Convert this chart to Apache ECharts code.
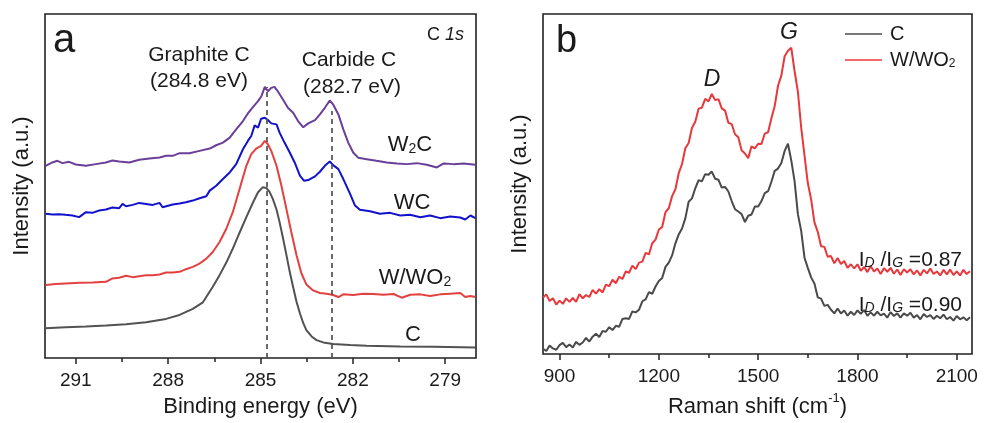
<!DOCTYPE html>
<html>
<head>
<meta charset="utf-8">
<script src="https://cdn.jsdelivr.net/npm/echarts@6/dist/echarts.min.js"></script>
<style>
html,body{margin:0;padding:0;background:#fff;}
#chart{width:984px;height:423px;}
</style>
</head>
<body>
<div id="chart"></div>
<script>
// ---------- Panel a: XPS C 1s (binding energy eV, intensity a.u.) ----------
var xpsTicks = [279, 282, 285, 288, 291];
var xpsMinorTicks = [280.5, 283.5, 286.5, 289.5];
var xpsC = [[291.98,90],[291.33,93],[290.67,95],[290.02,98],[289.37,102],[288.72,108],[288.07,118],[287.63,130],[287.20,148],[286.87,168],[286.55,215],[286.33,250],[286.11,288],[285.90,330],[285.68,378],[285.46,425],[285.24,470],[285.08,500],[284.93,515],[284.81,513],[284.71,502],[284.60,480],[284.48,448],[284.38,410],[284.27,362],[284.16,312],[284.05,260],[283.94,214],[283.83,170],[283.72,135],[283.61,105],[283.51,84],[283.34,65],[283.18,54],[282.96,47],[282.64,42],[282.09,39],[281.55,37],[280.46,35],[279.38,34],[278.02,32]];
var xpsWWO2 = [[291.98,220],[291.65,223],[291.33,225],[290.89,227],[290.46,228],[290.02,230],[289.81,240],[289.59,242],[289.37,248],[289.15,244],[288.94,247],[288.72,250],[288.50,250],[288.28,252],[288.07,258],[287.85,258],[287.63,260],[287.42,268],[287.20,275],[286.98,285],[286.76,300],[286.55,320],[286.33,350],[286.11,390],[285.90,440],[285.68,510],[285.46,580],[285.30,615],[285.14,632],[284.98,640],[284.86,655],[284.76,645],[284.65,625],[284.48,580],[284.32,520],[284.16,450],[284.00,380],[283.83,310],[283.67,255],[283.51,222],[283.29,204],[283.07,196],[282.85,194],[282.64,190],[282.47,184],[282.31,192],[281.99,190],[281.66,194],[281.33,193],[281.01,191],[280.68,193],[280.41,182],[280.14,191],[279.81,192],[279.49,187],[279.16,192],[278.84,194],[278.51,196],[278.35,184],[278.18,187],[278.02,184]];
var xpsWC = [[291.98,435],[291.76,433],[291.54,434],[291.33,432],[291.11,430],[290.89,425],[290.67,440],[290.46,438],[290.24,445],[290.02,448],[289.81,454],[289.59,452],[289.48,465],[289.37,458],[289.15,462],[288.94,468],[288.72,465],[288.50,462],[288.28,468],[288.18,455],[287.85,463],[287.63,466],[287.42,470],[287.20,475],[286.98,482],[286.76,488],[286.65,505],[286.44,520],[286.22,540],[286.00,560],[285.79,585],[285.57,630],[285.41,655],[285.30,670],[285.19,702],[285.08,695],[284.98,722],[284.86,725],[284.76,718],[284.65,708],[284.48,705],[284.38,680],[284.22,650],[284.05,620],[283.89,590],[283.72,550],[283.59,535],[283.45,537],[283.23,548],[283.07,562],[282.91,580],[282.75,593],[282.64,582],[282.47,570],[282.31,540],[282.09,495],[281.93,460],[281.77,447],[281.44,443],[281.12,435],[280.79,438],[280.46,430],[280.14,432],[279.81,425],[279.49,430],[279.16,422],[278.84,427],[278.51,424],[278.35,418],[278.18,430],[278.02,422]];
var xpsW2C = [[291.98,580],[291.76,590],[291.60,595],[291.43,588],[291.22,592],[291.00,584],[290.67,580],[290.35,585],[290.02,590],[289.81,596],[289.59,593],[289.26,590],[288.94,598],[288.61,602],[288.28,605],[288.07,610],[287.85,610],[287.63,618],[287.31,618],[286.98,625],[286.65,632],[286.44,642],[286.22,650],[286.00,665],[285.79,690],[285.57,715],[285.41,738],[285.24,758],[285.08,775],[284.97,790],[284.86,818],[284.76,805],[284.65,815],[284.55,818],[284.44,805],[284.27,780],[284.11,755],[283.94,740],[283.78,715],[283.61,696],[283.45,708],[283.23,718],[283.07,735],[282.91,755],[282.75,777],[282.64,765],[282.47,735],[282.31,690],[282.15,650],[281.99,620],[281.82,604],[281.55,600],[281.23,595],[280.90,590],[280.57,587],[280.25,585],[279.92,588],[279.60,583],[279.27,575],[279.05,587],[278.73,585],[278.40,587],[278.02,583]];
var xpsDashed = [[284.8, 818], [282.7, 745]];

// ---------- Panel b: Raman (shift cm-1, intensity a.u.) ----------
var ramanTicks = [900, 1200, 1500, 1800, 2100];
var ramanMinorTicks = [1050, 1350, 1650, 1950];
var ramanShift = [850,860,870,880,890,900,910,920,930,940,950,960,970,980,990,1000,1010,1020,1030,1040,1050,1060,1070,1080,1090,1100,1110,1120,1130,1140,1150,1160,1170,1180,1190,1200,1210,1220,1230,1240,1250,1260,1270,1280,1290,1300,1310,1320,1330,1340,1350,1360,1370,1380,1390,1400,1410,1420,1430,1440,1450,1460,1470,1480,1490,1500,1510,1520,1530,1540,1550,1560,1570,1580,1590,1600,1610,1620,1630,1640,1650,1660,1670,1680,1690,1700,1710,1720,1730,1740,1750,1760,1770,1780,1790,1800,1810,1820,1830,1840,1850,1860,1870,1880,1890,1900,1910,1920,1930,1940,1950,1960,1970,1980,1990,2000,2010,2020,2030,2040,2050,2060,2070,2080,2090,2100,2110,2120,2130,2140];
var ramanC = [16,9,26,17,13,27,34,21,29,20,37,28,35,49,38,53,62,52,70,68,82,73,86,83,107,109,107,130,127,135,161,167,189,184,206,223,232,266,279,301,338,365,383,414,465,475,506,531,527,549,547,557,535,532,508,510,496,467,442,435,427,403,422,426,450,450,467,491,497,526,559,566,583,620,642,591,528,427,376,294,263,234,215,173,169,147,150,135,124,139,124,133,117,129,119,133,123,134,117,127,117,129,118,123,111,128,116,124,111,124,117,126,111,119,106,122,113,119,107,117,109,120,106,113,102,116,106,112,103,112];
var ramanWWO2 = [172,182,162,170,151,163,153,170,159,171,159,183,170,180,174,196,184,198,188,212,207,227,216,236,229,252,248,270,259,279,282,309,304,338,349,380,388,433,445,482,503,552,580,628,644,690,709,749,752,779,771,794,775,778,750,743,706,702,671,662,622,612,598,634,628,642,641,673,677,720,757,819,850,909,926,935,864,801,691,606,522,472,402,373,329,327,297,299,277,293,275,284,263,274,261,274,254,266,250,268,252,261,244,262,251,263,245,258,241,259,249,259,243,255,240,257,246,261,244,252,240,257,243,258,241,252,240,257,244,253];

var FONT = 'Liberation Sans, Arial, sans-serif';
var TXT = '#1a1a1a';

function zip(xs, ys) { return xs.map(function (x, i) { return [x, ys[i]]; }); }

var chart = echarts.init(document.getElementById('chart'), null, {renderer: 'canvas'});

function xAxisBase(grid, min, max, inverse, name) {
  return {
    type: 'value', gridIndex: grid, min: min, max: max, inverse: inverse,
    name: name, nameLocation: 'middle', nameGap: 38,
    nameTextStyle: {fontSize: 22, color: TXT, fontFamily: FONT, rich: {
      n: {fontSize: 22, color: TXT, fontFamily: FONT},
      sup: {fontSize: 13, color: TXT, fontFamily: FONT, verticalAlign: 'top', lineHeight: 30}
    }},
    axisLine: {show: false},
    splitLine: {show: false},
    axisTick: {show: true, length: 6, lineStyle: {color: '#222', width: 1.5}},
    axisLabel: {show: true, fontSize: 19, color: TXT, fontFamily: FONT, margin: 13,
      formatter: function (v) { return String(v); }}
  };
}

var xA0 = xAxisBase(0, 278, 292, true, 'Binding energy (eV)');
xA0.axisTick.customValues = xpsTicks;
xA0.axisLabel.customValues = xpsTicks;
var xA0m = {type: 'value', gridIndex: 0, min: 278, max: 292, inverse: true, position: 'bottom',
  axisLine: {show: false}, splitLine: {show: false}, axisLabel: {show: false},
  axisTick: {show: true, length: 4, customValues: xpsMinorTicks, lineStyle: {color: '#222', width: 1.5}}};
var xA1 = xAxisBase(1, 850, 2146, false, '{n|Raman shift (cm}{sup|-1}{n|)}');
xA1.axisTick.customValues = ramanTicks;
xA1.axisLabel.customValues = ramanTicks;
var xA1m = {type: 'value', gridIndex: 1, min: 850, max: 2146, position: 'bottom',
  axisLine: {show: false}, splitLine: {show: false}, axisLabel: {show: false},
  axisTick: {show: true, length: 4, customValues: ramanMinorTicks, lineStyle: {color: '#222', width: 1.5}}};

function yAxisBase(grid) {
  return {type: 'value', gridIndex: grid, min: 0, max: 1038,
    name: 'Intensity (a.u.)', nameLocation: 'middle', nameGap: 12,
    nameTextStyle: {fontSize: 22, color: TXT, fontFamily: FONT},
    axisLine: {show: false}, axisTick: {show: false}, axisLabel: {show: false}, splitLine: {show: false}};
}

function lineSeries(name, data, color, xi, yi, width) {
  return {type: 'line', name: name, data: data, xAxisIndex: xi, yAxisIndex: yi,
    showSymbol: false, symbol: 'none', smooth: false, animation: false,
    lineStyle: {color: color, width: width}, itemStyle: {color: color}, z: 3};
}

var sC = lineSeries('xps-C', xpsC, '#525252', 0, 0, 2);
sC.markLine = {symbol: 'none', silent: true, animation: false, label: {show: false},
  lineStyle: {type: [5, 4], color: '#505050', width: 1.7},
  data: xpsDashed.map(function (d) { return [{coord: [d[0], 0]}, {coord: [d[0], d[1]]}]; })};

function txt(text, x, y, size, align, extra) {
  var st = Object.assign({text: text, x: x, y: y, fontSize: size, fontFamily: FONT, fill: TXT,
    align: align || 'center', verticalAlign: 'middle'}, extra || {});
  return {type: 'text', z: 10, silent: true, style: st};
}
var subRich = {
  n: {fontSize: 22, fontFamily: FONT, fill: TXT, color: TXT},
  s: {fontSize: 14, fontFamily: FONT, fill: TXT, color: TXT, verticalAlign: 'bottom', lineHeight: 8}
};
var ratioRich = {
  n: {fontSize: 21, fontFamily: FONT, fill: TXT, color: TXT},
  s: {fontSize: 14, fontStyle: 'italic', fontFamily: FONT, fill: TXT, color: TXT, verticalAlign: 'bottom', lineHeight: 14}
};

var option = {
  backgroundColor: '#fff',
  animation: false,
  grid: [
    {left: 45, top: 14, width: 431, bottom: 63, show: true, borderColor: '#222', borderWidth: 1.6, backgroundColor: 'transparent'},
    {left: 543, top: 14, width: 429, bottom: 63, show: true, borderColor: '#222', borderWidth: 1.6, backgroundColor: 'transparent'}
  ],
  xAxis: [xA0, xA1, xA0m, xA1m],
  yAxis: [yAxisBase(0), yAxisBase(1)],
  legend: {
    data: ['C', 'W/WO2'], orient: 'vertical', left: 845, top: 24, padding: 0, itemWidth: 37, itemHeight: 14, itemGap: 6,
    icon: 'path://M0,0 L37,0 L37,1.6 L0,1.6 Z',
    textStyle: {fontSize: 20, color: TXT, fontFamily: FONT, padding: [0, 0, 0, 3], rich: {
      a: {fontSize: 20, color: TXT, fontFamily: FONT},
      s: {fontSize: 12, color: TXT, fontFamily: FONT, verticalAlign: 'bottom', lineHeight: 6}
    }},
    formatter: function (n) { return n === 'W/WO2' ? '{a|W/WO}{s|2}' : '{a|C}'; }
  },
  series: [
    sC,
    lineSeries('xps-WWO2', xpsWWO2, '#e2413f', 0, 0, 2),
    lineSeries('xps-WC', xpsWC, '#1212cc', 0, 0, 2),
    lineSeries('xps-W2C', xpsW2C, '#6a3f98', 0, 0, 2),
    lineSeries('C', zip(ramanShift, ramanC), '#4a4a4a', 1, 1, 2),
    lineSeries('W/WO2', zip(ramanShift, ramanWWO2), '#e8383b', 1, 1, 2)
  ],
  graphic: [
    txt('a', 53, 41, 40, 'left'),
    txt('{n|C }{i|1s}', 464, 35, 18, 'right', {rich: {n: {fontSize: 18, fontFamily: FONT, fill: TXT}, i: {fontSize: 18, fontStyle: 'italic', fontFamily: FONT, fill: TXT}}}),
    txt('Graphite C', 199, 55, 21),
    txt('(284.8 eV)', 199, 81, 21),
    txt('Carbide C', 349, 60, 21),
    txt('(282.7 eV)', 352, 87, 21),
    txt('{n|W}{s|2}{n|C}', 410, 145, 22, 'center', {rich: subRich}),
    txt('WC', 412, 203, 22),
    txt('{n|W/WO}{s|2}', 415, 278, 22, 'center', {rich: subRich}),
    txt('C', 413, 335, 22),
    txt('b', 556, 42, 38, 'left'),
    txt('D', 712, 80, 23, 'center', {fontStyle: 'italic'}),
    txt('G', 789, 33, 23, 'center', {fontStyle: 'italic'}),
    txt('{n|I}{s|D}{n| /I}{s|G}{n| =0.87}', 962, 260, 21, 'right', {rich: ratioRich}),
    txt('{n|I}{s|D}{n| /I}{s|G}{n| =0.90}', 962, 305, 21, 'right', {rich: ratioRich})
  ]
};
chart.setOption(option);
</script>
</body>
</html>
